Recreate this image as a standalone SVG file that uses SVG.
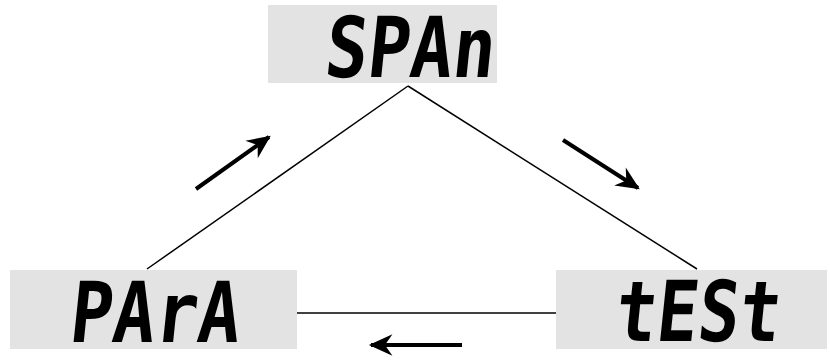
<svg xmlns="http://www.w3.org/2000/svg" width="830" height="361" viewBox="0 0 830 361">
  <style>
    .box { fill: #e3e3e3; }
    .seg { font-family: "DejaVu Sans Mono", "Liberation Mono", monospace; font-weight: bold; font-size: 84px; fill: #000; }
    .edge { stroke: #000; stroke-width: 1.5; fill: none; }
    .flow { stroke: #000; stroke-width: 4; fill: none; marker-end: url(#head); }
  </style>
  <defs>
    <marker id="head" markerUnits="userSpaceOnUse" markerWidth="30" markerHeight="30" viewBox="-24 -12 28 24" refX="0" refY="0" orient="auto">
      <path d="M2,0 L-20,-10 L-13,0 L-20,10 Z" fill="#000"/>
    </marker>
  </defs>

  <g id="connectors">
    <line class="edge" x1="408" y1="86" x2="147" y2="269"/>
    <line class="edge" x1="408" y1="86" x2="697" y2="269"/>
    <line class="edge" x1="297" y1="313" x2="556" y2="313"/>
    <line class="flow" x1="196" y1="189" x2="269" y2="137"/>
    <line class="flow" x1="563" y1="140" x2="638" y2="188"/>
    <line class="flow" x1="462" y1="345" x2="371" y2="345"/>
  </g>

  <g id="span">
    <rect class="box" x="268" y="5" width="229" height="78"/>
    <text class="seg" x="323" y="77" textLength="170" lengthAdjust="spacingAndGlyphs" transform="skewX(-6) translate(8 0)">SPAn</text>
  </g>

  <g id="para">
    <rect class="box" x="10" y="270" width="287" height="79"/>
    <text class="seg" x="68" y="342" textLength="170" lengthAdjust="spacingAndGlyphs" transform="skewX(-6) translate(36 0)">PArA</text>
  </g>

  <g id="test">
    <rect class="box" x="556" y="270" width="271" height="79"/>
    <text class="seg" x="613" y="341" textLength="165" lengthAdjust="spacingAndGlyphs" transform="skewX(-6) translate(36 0)">tESt</text>
  </g>
</svg>
